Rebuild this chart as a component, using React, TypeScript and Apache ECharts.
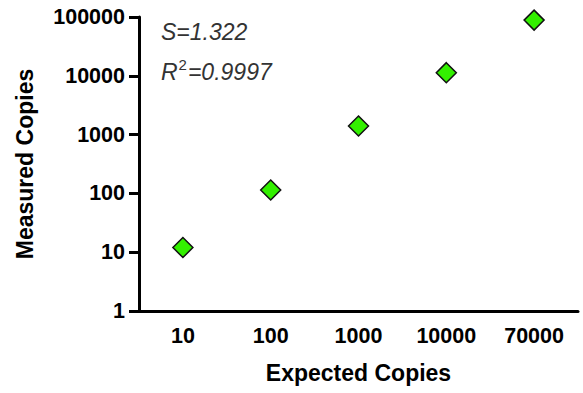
import React, { useEffect, useRef } from "react";
import * as echarts from "echarts";

const categories = ["10", "100", "1000", "10000", "70000"];
const measured = [12.0, 114, 1400, 11300, 88500];
const yTicks = [1, 10, 100, 1000, 10000, 100000];
const xTitle = "Expected Copies";
const yTitle = "Measured Copies";
const slopeText = "S=1.322";
const r2Value = "=0.9997";

const FONT = "'Liberation Sans', Arial, Helvetica, sans-serif";

export default function App() {
  const ref = useRef<HTMLDivElement>(null);
  useEffect(() => {
    if (!ref.current) return;
    const chart = echarts.init(ref.current, null, { renderer: "svg" });
    chart.setOption({
      animation: false,
      backgroundColor: "#ffffff",
      grid: { left: 139, right: 5, top: 17, bottom: 82, containLabel: false },
      xAxis: {
        type: "category",
        data: categories,
        boundaryGap: true,
        name: xTitle,
        nameLocation: "middle",
        nameGap: 50,
        nameTextStyle: { fontFamily: FONT, fontWeight: "bold", fontSize: 23, color: "#000" },
        axisLine: { lineStyle: { color: "#000", width: 3 } },
        axisTick: { alignWithLabel: true, length: 10, lineStyle: { color: "#000", width: 3 } },
        axisLabel: { fontFamily: FONT, fontWeight: "bold", fontSize: 21.5, color: "#000", margin: 14 },
        splitLine: { show: false },
      },
      yAxis: {
        type: "log",
        logBase: 10,
        min: yTicks[0],
        max: yTicks[yTicks.length - 1],
        name: yTitle,
        nameLocation: "middle",
        nameGap: 103,
        nameRotate: 90,
        nameTextStyle: { fontFamily: FONT, fontWeight: "bold", fontSize: 23, color: "#000" },
        axisLine: { show: true, lineStyle: { color: "#000", width: 3 } },
        axisTick: { show: true, length: 10, lineStyle: { color: "#000", width: 3 } },
        axisLabel: {
          fontFamily: FONT,
          fontWeight: "bold",
          fontSize: 21.5,
          color: "#000",
          margin: 14,
          formatter: (v: number) => String(Math.round(v)),
        },
        splitLine: { show: false },
        minorTick: { show: false },
      },
      series: [
        {
          type: "scatter",
          data: measured,
          symbol: "diamond",
          symbolSize: [20, 20],
          itemStyle: { color: "#33f000", borderColor: "#111", borderWidth: 1.5, opacity: 1 },
        },
      ],
      graphic: [
        {
          type: "text",
          left: 161,
          top: 20,
          style: {
            text: slopeText,
            font: `italic 23px ${FONT}`,
            fill: "#333",
          },
        },
        {
          type: "text",
          left: 161,
          top: 57,
          style: {
            text: "{a|R}{b|2}{a|" + r2Value + "}",
            rich: {
              a: { fontFamily: FONT, fontStyle: "italic", fontSize: 23, fill: "#333", color: "#333", verticalAlign: "bottom", lineHeight: 28 },
              b: { fontFamily: FONT, fontStyle: "normal", fontSize: 15, fill: "#333", color: "#333", verticalAlign: "bottom", lineHeight: 18, padding: [0, 1, 11, 1] },
            },
          },
        },
      ],
    });
    return () => chart.dispose();
  }, []);
  return (
    <div
      ref={ref}
      style={{ position: "fixed", left: 0, top: 0, width: 583, height: 393, background: "#fff" }}
    />
  );
}
